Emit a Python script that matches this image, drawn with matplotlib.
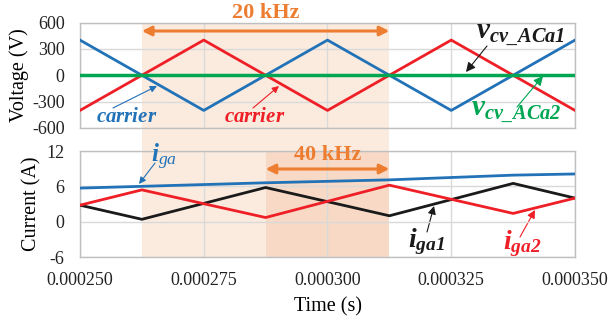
import matplotlib
matplotlib.use("Agg")
import matplotlib.pyplot as plt
import matplotlib.transforms as mtransforms
from matplotlib.patches import Rectangle

plt.rcParams['font.family'] = ['Liberation Serif', 'DejaVu Serif']
plt.rcParams['axes.unicode_minus'] = False
plt.rcParams['mathtext.fontset'] = 'custom'
plt.rcParams['mathtext.rm'] = 'Liberation Serif'
plt.rcParams['mathtext.it'] = 'Liberation Serif:italic'
plt.rcParams['mathtext.bf'] = 'Liberation Serif:bold'
plt.rcParams['mathtext.bfit'] = 'Liberation Serif:italic:bold'

# ---- data ----
t_tri = [0.000250, 0.000275, 0.000300, 0.000325, 0.000350]
carrier_blue = [400, -400, 400, -400, 400]
carrier_red = [-400, 400, -400, 400, -400]
t_flat = [0.000250, 0.000350]
v_cv_ACa1 = [0, 0]
v_cv_ACa2 = [0, 0]

t_cur = [0.000250, 0.0002625, 0.0002875, 0.0003125, 0.0003375, 0.000350]
i_ga = [5.7, 6.0, 6.6, 7.1, 7.9, 8.1]
i_ga1 = [2.8, 0.4, 5.8, 1.0, 6.5, 4.0]
i_ga2 = [2.8, 5.4, 0.7, 6.2, 1.4, 4.0]

span20 = [0.0002625, 0.0003125]
span40 = [0.0002875, 0.0003125]

xticks = [0.000250, 0.000275, 0.000300, 0.000325, 0.000350]
vticks = [600, 300, 0, -300, -600]
iticks = [12, 6, 0, -6]

BLUE = '#2272B8'
RED = '#EE1F26'
BLACK = '#1A1A1A'
GREEN = '#00A651'
ORANGE = '#ED7D31'
GRID = '#D9D9D9'

W, H = 609, 327
fig = plt.figure(figsize=(W / 100, H / 100), dpi=100)

def px_axes(l, t, r, b):
    return fig.add_axes([l / W, 1 - b / H, (r - l) / W, (b - t) / H])

ax1 = px_axes(80, 22.5, 575, 128)
ax2 = px_axes(80, 151, 575, 257)

for ax in (ax1, ax2):
    ax.set_facecolor('none')
    ax.set_xlim(t_tri[0], t_tri[-1])
    ax.set_xticks(xticks)
    ax.grid(True, color=GRID, lw=1.0)
    ax.set_axisbelow(True)
    ax.tick_params(length=0, labelsize=13, colors='#222222')
    ax.tick_params(axis='y', pad=11)
    ax.tick_params(axis='x', pad=11)
    for s in ax.spines.values():
        s.set_color('#BFBFBF')
        s.set_linewidth(1.0)

ax1.set_ylim(-600, 600)
ax1.set_yticks(vticks)
ax1.set_xticklabels([])
ax2.set_ylim(-6, 12)
ax2.set_yticks(iticks)
ax2.set_xticklabels(['%.6f' % x for x in xticks])

# light shading spanning both axes
trans = mtransforms.blended_transform_factory(ax1.transData, fig.transFigure)
y0 = 1 - 257 / H
y1 = 1 - 22.5 / H
fig.patches.append(Rectangle((span20[0], y0), span20[1] - span20[0], y1 - y0,
                             transform=trans, facecolor='#FBEBDF', edgecolor='none', zorder=-5))
ax2.axvspan(span40[0], span40[1], color='#F7D9C6', lw=0, zorder=0)

# top plot
ax1.plot(t_tri, carrier_blue, color=BLUE, lw=2.0, zorder=3)
ax1.plot(t_tri, carrier_red, color=RED, lw=2.0, zorder=3)
ax1.plot(t_flat, v_cv_ACa1, color='#333333', lw=2.0, zorder=4)
ax1.plot(t_flat, v_cv_ACa2, color=GREEN, lw=2.5, zorder=5)

# bottom plot
ax2.plot(t_cur, i_ga, color=BLUE, lw=2.0, zorder=3)
ax2.plot(t_cur, i_ga1, color=BLACK, lw=2.0, zorder=3)
ax2.plot(t_cur, i_ga2, color=RED, lw=2.0, zorder=4)

ax1.set_ylabel('Voltage (V)', fontsize=14.5)
ax2.set_ylabel('Current (A)', fontsize=14.5)
ax2.set_xlabel('Time (s)', fontsize=14.5, labelpad=6)
ax1.yaxis.set_label_coords(-0.103, 0.5)
ax2.yaxis.set_label_coords(-0.078, 0.5)

# frequency arrows
ax1.annotate('', xy=(span20[0], 1.0 - 8.5 / 105.5), xycoords=('data', 'axes fraction'),
             xytext=(span20[1], 1.0 - 8.5 / 105.5), textcoords=('data', 'axes fraction'),
             arrowprops=dict(arrowstyle='<|-|>', color=ORANGE, lw=2.2, mutation_scale=14,
                             shrinkA=0, shrinkB=0), annotation_clip=False)
ax1.text(sum(span20) / 2, 1.0 + 10 / 105.5, '20 kHz', transform=ax1.get_xaxis_transform(),
         ha='center', va='center', color=ORANGE, fontsize=16, fontweight='bold')
ax2.annotate('', xy=(span40[0], 1.0 - 18 / 106), xycoords=('data', 'axes fraction'),
             xytext=(span40[1], 1.0 - 18 / 106), textcoords=('data', 'axes fraction'),
             arrowprops=dict(arrowstyle='<|-|>', color=ORANGE, lw=2.2, mutation_scale=14,
                             shrinkA=0, shrinkB=0), annotation_clip=False)
ax2.text(sum(span40) / 2, 1.0 - 4 / 106, '40 kHz', transform=ax2.get_xaxis_transform(),
         ha='center', va='center', color=ORANGE, fontsize=16, fontweight='bold')

def fig_ann(text, xy_px, xytext_px, color, fs, lw=1.0, ha='center', va='center', head=10):
    ax1.annotate(text, xy=(xy_px[0] / W, 1 - xy_px[1] / H), xycoords='figure fraction',
                 xytext=(xytext_px[0] / W, 1 - xytext_px[1] / H), textcoords='figure fraction',
                 color=color, fontsize=fs, ha=ha, va=va,
                 arrowprops=dict(arrowstyle='-|>', color=color, lw=lw, mutation_scale=head,
                                 shrinkA=0, shrinkB=0), annotation_clip=False)

def fig_text(text, pos_px, color, fs, ha='center', va='center'):
    fig.text(pos_px[0] / W, 1 - pos_px[1] / H, text, color=color, fontsize=fs, ha=ha, va=va)

# carrier labels
fig_ann('', (157, 86), (113, 108), BLUE, 10, lw=0.8)
fig_text(r'$\mathbfit{carrier}$', (127, 117), BLUE, 15)
fig_ann('', (279, 86), (253, 108), RED, 10, lw=0.8)
fig_text(r'$\mathbfit{carrier}$', (255, 117), RED, 15)

# v labels
fig_ann('', (466, 72), (487, 46), BLACK, 10, lw=0.8, head=14)
fig_text(r'$\mathbfit{v}_{\mathbfit{cv\_ACa1}}$', (520, 35), BLACK, 21)
fig_ann('', (543, 76), (517, 107), GREEN, 10, lw=0.8, head=14)
fig_text(r'$\mathbfit{v}_{\mathbfit{cv\_ACa2}}$', (516, 112), GREEN, 21)

# i labels
fig_text(r'$\mathbfit{i}_{\mathit{ga}}$', (164, 157), BLUE, 18)
fig_ann('', (139, 184), (155, 163), BLUE, 10, lw=0.8)
fig_ann('', (434, 206), (427, 232), BLACK, 10, lw=0.8, head=12)
fig_text(r'$\mathbfit{i}_{\mathbfit{ga1}}$', (427, 242), BLACK, 20)
fig_ann('', (535, 210), (520, 237), RED, 10, lw=0.8, head=12)
fig_text(r'$\mathbfit{i}_{\mathbfit{ga2}}$', (522, 244), RED, 20)

fig.savefig('out.png', dpi=100)
